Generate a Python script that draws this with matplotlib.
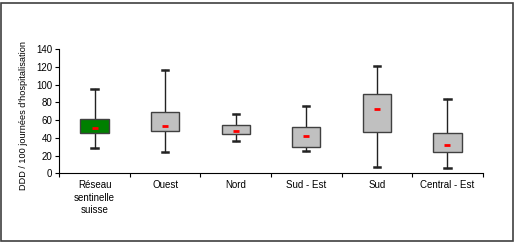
import matplotlib
matplotlib.use('Agg')
import matplotlib.pyplot as plt
from matplotlib.patches import Rectangle

# values (DDD / 100 journees d'hospitalisation)
regions = ['Réseau\nsentinelle\nsuisse', 'Ouest', 'Nord', 'Sud - Est', 'Sud', 'Central - Est']
whisk_low = [28, 24, 37, 25.5, 7, 5.5]
box_low = [45, 47.5, 44, 30, 47, 24]
medians = [51, 53.5, 48, 42, 72.5, 31.5]
box_high = [61.5, 69.5, 54.5, 52.5, 89, 45]
whisk_high = [95, 117, 67, 76, 121, 84]
box_colors = ['#008000', '#C0C0C0', '#C0C0C0', '#C0C0C0', '#C0C0C0', '#C0C0C0']

plt.rcParams['font.family'] = ['Liberation Sans', 'DejaVu Sans']

fig = plt.figure(figsize=(5.15, 2.42), dpi=100)
ax = fig.add_axes([0.1151, 0.2839, 0.8222, 0.5124])

stats = []
for i in range(len(regions)):
    stats.append({'whislo': whisk_low[i], 'q1': box_low[i], 'med': medians[i],
                  'q3': box_high[i], 'whishi': whisk_high[i], 'fliers': []})

pos = list(range(1, len(regions) + 1))
bp = ax.bxp(stats, positions=pos, widths=0.4, patch_artist=True, capwidths=0.09,
            boxprops=dict(edgecolor='#404040', linewidth=1.0),
            whiskerprops=dict(color='#222222', linewidth=1.0),
            capprops=dict(color='#222222', linewidth=1.8),
            medianprops=dict(linewidth=0))
for patch, c in zip(bp['boxes'], box_colors):
    patch.set_facecolor(c)
    patch.set_zorder(3)

# little red dash for the median
ax.scatter(pos, medians, marker='_', s=22, linewidths=2, color='red', zorder=4)

ax.set_xlim(0.5, len(regions) + 0.5)
ax.set_ylim(0, 140)
ax.set_yticks(range(0, 141, 20))
ax.tick_params(axis='y', labelsize=7, length=3, width=0.8, pad=2)
ax.set_xticks([p + 0.5 for p in range(0, len(regions) + 1)])
ax.set_xticklabels([])
ax.set_xticks(pos, minor=True)
ax.set_xticklabels(regions, minor=True, fontsize=7, linespacing=1.3)
ax.tick_params(axis='x', which='minor', length=0, pad=5)
ax.tick_params(axis='x', which='major', length=3, width=0.8)

ax.spines['top'].set_visible(False)
ax.spines['right'].set_visible(False)
ax.spines['left'].set_linewidth(0.8)
ax.spines['bottom'].set_linewidth(0.8)

ax.set_ylabel("DDD / 100 journées d'hospitalisation", fontsize=6.6)
ax.yaxis.set_label_coords(-0.074, 0.466)

# outer frame of the chart area
fig.patches.append(Rectangle((0.002, 0.004), 0.994, 0.982, transform=fig.transFigure,
                             fill=False, edgecolor='#404040', linewidth=1.2))

fig.savefig('out.png', dpi=100)
